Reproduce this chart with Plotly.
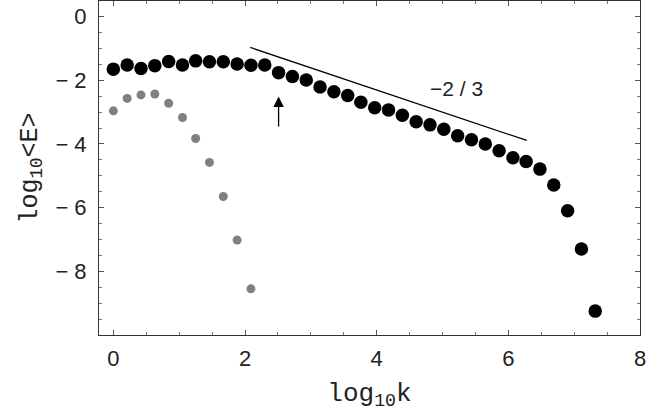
import plotly.graph_objects as go

# shell index n -> log10 k (golden-ratio shells)
log_k_black = [0.0, 0.21, 0.42, 0.63, 0.84, 1.05, 1.25, 1.46, 1.67, 1.88, 2.09, 2.30,
               2.51, 2.72, 2.93, 3.14, 3.35, 3.56, 3.76, 3.97, 4.18, 4.39, 4.60, 4.81,
               5.02, 5.23, 5.44, 5.65, 5.86, 6.07, 6.27, 6.48, 6.69, 6.90, 7.11, 7.32]
log_E_black = [-1.65, -1.52, -1.63, -1.54, -1.41, -1.52, -1.39, -1.42, -1.42, -1.49, -1.53, -1.52,
               -1.76, -1.88, -1.99, -2.21, -2.36, -2.48, -2.69, -2.86, -2.93, -3.10, -3.30, -3.40,
               -3.54, -3.74, -3.87, -4.00, -4.21, -4.43, -4.55, -4.79, -5.29, -6.10, -7.30, -9.25]

log_k_gray = [0.0, 0.21, 0.42, 0.63, 0.84, 1.05, 1.25, 1.46, 1.67, 1.88, 2.09]
log_E_gray = [-2.96, -2.57, -2.46, -2.43, -2.72, -3.17, -3.83, -4.58, -5.65, -7.02, -8.55]

slope_line_x = [2.08, 6.28]
slope_line_y = [-0.97, -3.89]
slope_label = "\u22122 / 3"
slope_label_pos = (5.22, -2.25)

arrow_tip = (2.51, -2.51)
arrow_tail = (2.51, -3.50)

x_tickvals = [0, 2, 4, 6, 8]
x_ticktext = ["0", "2", "4", "6", "8"]
y_tickvals = [0, -2, -4, -6, -8]
y_ticktext = ["0", "\u2212 2", "\u2212 4", "\u2212 6", "\u2212 8"]

fig = go.Figure()
fig.add_trace(go.Scatter(x=log_k_gray, y=log_E_gray, mode="markers",
                         marker=dict(color="#808080", size=9), showlegend=False))
fig.add_trace(go.Scatter(x=log_k_black, y=log_E_black, mode="markers",
                         marker=dict(color="black", size=13.5), showlegend=False))
fig.add_trace(go.Scatter(x=slope_line_x, y=slope_line_y, mode="lines",
                         line=dict(color="black", width=1.3), showlegend=False))

fig.add_annotation(x=slope_label_pos[0], y=slope_label_pos[1], text=slope_label,
                   showarrow=False, font=dict(family="Liberation Sans", size=21, color="#222"))
fig.add_annotation(x=arrow_tip[0], y=arrow_tip[1], ax=arrow_tail[0], ay=arrow_tail[1],
                   axref="x", ayref="y", xref="x", yref="y", text="",
                   showarrow=True, arrowhead=2, arrowsize=1.6, arrowwidth=1.3, arrowcolor="black")

axis_common = dict(showgrid=False, zeroline=False, showline=True, linecolor="#333",
                   linewidth=1, mirror="ticks", ticks="inside", ticklen=5, tickcolor="#555",
                   tickfont=dict(family="Liberation Sans", size=22, color="#222"))

fig.update_xaxes(range=[-0.218, 8], tickvals=x_tickvals, ticktext=x_ticktext,
                 ticklabelstandoff=4,
                 minor=dict(dtick=0.5, ticks="inside", ticklen=3, tickcolor="#777"),
                 title=dict(text="log<sub>10</sub>k", standoff=12,
                            font=dict(family="Liberation Mono", size=26, color="#222")),
                 **axis_common)
fig.update_yaxes(range=[-10, 0.49], tickvals=y_tickvals, ticktext=y_ticktext,
                 ticklabelstandoff=7,
                 minor=dict(dtick=0.5, ticks="inside", ticklen=3, tickcolor="#777"),
                 title=dict(text="log<sub>10</sub>&lt;E&gt;", standoff=10,
                            font=dict(family="Liberation Mono", size=25, color="#222")),
                 **axis_common)

fig.update_layout(width=664, height=411, margin=dict(l=99, r=24, t=1, b=76),
                  plot_bgcolor="white", paper_bgcolor="white")

fig.write_html("out.html", config={"displayModeBar": False},
               post_script="document.body.style.margin='0';")
